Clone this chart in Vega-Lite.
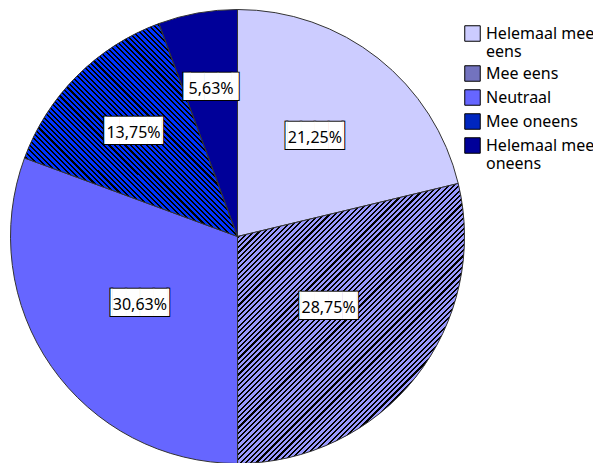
{
"$schema":"https://vega.github.io/schema/vega-lite/v6.json",
"width":475,"height":473,"padding":0,"background":"white",
"config":{"view":{"stroke":null}},
"data":{"values":[
{"i":1,"answer":"Helemaal mee eens","pct":21.25,"label":"21,25%"},
{"i":2,"answer":"Mee eens","pct":28.75,"label":"28,75%"},
{"i":3,"answer":"Neutraal","pct":30.63,"label":"30,63%"},
{"i":4,"answer":"Mee oneens","pct":13.75,"label":"13,75%"},
{"i":5,"answer":"Helemaal mee oneens","pct":5.63,"label":"5,63%"}
]},
"encoding":{
"theta":{"field":"pct","type":"quantitative","stack":true},
"order":{"field":"i","type":"quantitative"}
},
"layer":[
{"mark":{"type":"arc","outerRadius":227,"strokeWidth":0},
"encoding":{"color":{"field":"answer","type":"nominal",
"scale":{"domain":["Helemaal mee eens","Mee eens","Neutraal","Mee oneens","Helemaal mee oneens"],"range":["#ccccff","#7373bf","#6666ff","#0026bf","#000099"]},
"legend":{"orient":"none","legendX":464,"legendY":25,"title":null,"symbolType":"square","symbolSize":240,"symbolStrokeColor":"#000","symbolStrokeWidth":1,"labelFont":"Noto Sans","labelFontSize":16,"labelColor":"#000","labelLineHeight":19,"rowPadding":3,"labelOffset":5,"labelLimit":300,"padding":0,"symbolOffset":0,
"labelExpr":"datum.label == 'Helemaal mee eens' ? ['Helemaal mee','eens'] : datum.label == 'Helemaal mee oneens' ? ['Helemaal mee','oneens'] : datum.label"}}}},
{"mark":{"type":"arc","outerRadius":227,"stroke":"#333","strokeWidth":1},
"encoding":{"fill":{"condition":[
{"test":"datum.answer === 'Mee eens'","value":{"gradient":"linear","x1":0,"y1":0,"x2":0.9265,"y2":1.1429,"stops":[
{"offset":0.05,"color":"#000"},{"offset":0.054,"color":"#000"},{"offset":0.054,"color":"#99f"},{"offset":0.06,"color":"#99f"},
{"offset":0.06,"color":"#000"},{"offset":0.064,"color":"#000"},{"offset":0.064,"color":"#99f"},{"offset":0.07,"color":"#99f"},
{"offset":0.07,"color":"#000"},{"offset":0.074,"color":"#000"},{"offset":0.074,"color":"#99f"},{"offset":0.08,"color":"#99f"},
{"offset":0.08,"color":"#000"},{"offset":0.084,"color":"#000"},{"offset":0.084,"color":"#99f"},{"offset":0.09,"color":"#99f"},
{"offset":0.09,"color":"#000"},{"offset":0.094,"color":"#000"},{"offset":0.094,"color":"#99f"},{"offset":0.1,"color":"#99f"},
{"offset":0.1,"color":"#000"},{"offset":0.104,"color":"#000"},{"offset":0.104,"color":"#99f"},{"offset":0.11,"color":"#99f"},
{"offset":0.11,"color":"#000"},{"offset":0.114,"color":"#000"},{"offset":0.114,"color":"#99f"},{"offset":0.12,"color":"#99f"},
{"offset":0.12,"color":"#000"},{"offset":0.124,"color":"#000"},{"offset":0.124,"color":"#99f"},{"offset":0.13,"color":"#99f"},
{"offset":0.13,"color":"#000"},{"offset":0.134,"color":"#000"},{"offset":0.134,"color":"#99f"},{"offset":0.14,"color":"#99f"},
{"offset":0.14,"color":"#000"},{"offset":0.144,"color":"#000"},{"offset":0.144,"color":"#99f"},{"offset":0.15,"color":"#99f"},
{"offset":0.15,"color":"#000"},{"offset":0.154,"color":"#000"},{"offset":0.154,"color":"#99f"},{"offset":0.16,"color":"#99f"},
{"offset":0.16,"color":"#000"},{"offset":0.164,"color":"#000"},{"offset":0.164,"color":"#99f"},{"offset":0.17,"color":"#99f"},
{"offset":0.17,"color":"#000"},{"offset":0.174,"color":"#000"},{"offset":0.174,"color":"#99f"},{"offset":0.18,"color":"#99f"},
{"offset":0.18,"color":"#000"},{"offset":0.184,"color":"#000"},{"offset":0.184,"color":"#99f"},{"offset":0.19,"color":"#99f"},
{"offset":0.19,"color":"#000"},{"offset":0.194,"color":"#000"},{"offset":0.194,"color":"#99f"},{"offset":0.2,"color":"#99f"},
{"offset":0.2,"color":"#000"},{"offset":0.204,"color":"#000"},{"offset":0.204,"color":"#99f"},{"offset":0.21,"color":"#99f"},
{"offset":0.21,"color":"#000"},{"offset":0.214,"color":"#000"},{"offset":0.214,"color":"#99f"},{"offset":0.22,"color":"#99f"},
{"offset":0.22,"color":"#000"},{"offset":0.224,"color":"#000"},{"offset":0.224,"color":"#99f"},{"offset":0.23,"color":"#99f"},
{"offset":0.23,"color":"#000"},{"offset":0.234,"color":"#000"},{"offset":0.234,"color":"#99f"},{"offset":0.24,"color":"#99f"},
{"offset":0.24,"color":"#000"},{"offset":0.244,"color":"#000"},{"offset":0.244,"color":"#99f"},{"offset":0.25,"color":"#99f"},
{"offset":0.25,"color":"#000"},{"offset":0.254,"color":"#000"},{"offset":0.254,"color":"#99f"},{"offset":0.26,"color":"#99f"},
{"offset":0.26,"color":"#000"},{"offset":0.264,"color":"#000"},{"offset":0.264,"color":"#99f"},{"offset":0.27,"color":"#99f"},
{"offset":0.27,"color":"#000"},{"offset":0.274,"color":"#000"},{"offset":0.274,"color":"#99f"},{"offset":0.28,"color":"#99f"},
{"offset":0.28,"color":"#000"},{"offset":0.284,"color":"#000"},{"offset":0.284,"color":"#99f"},{"offset":0.29,"color":"#99f"},
{"offset":0.29,"color":"#000"},{"offset":0.294,"color":"#000"},{"offset":0.294,"color":"#99f"},{"offset":0.3,"color":"#99f"},
{"offset":0.3,"color":"#000"},{"offset":0.304,"color":"#000"},{"offset":0.304,"color":"#99f"},{"offset":0.31,"color":"#99f"},
{"offset":0.31,"color":"#000"},{"offset":0.314,"color":"#000"},{"offset":0.314,"color":"#99f"},{"offset":0.32,"color":"#99f"},
{"offset":0.32,"color":"#000"},{"offset":0.324,"color":"#000"},{"offset":0.324,"color":"#99f"},{"offset":0.33,"color":"#99f"},
{"offset":0.33,"color":"#000"},{"offset":0.334,"color":"#000"},{"offset":0.334,"color":"#99f"},{"offset":0.34,"color":"#99f"},
{"offset":0.34,"color":"#000"},{"offset":0.344,"color":"#000"},{"offset":0.344,"color":"#99f"},{"offset":0.35,"color":"#99f"},
{"offset":0.35,"color":"#000"},{"offset":0.354,"color":"#000"},{"offset":0.354,"color":"#99f"},{"offset":0.36,"color":"#99f"},
{"offset":0.36,"color":"#000"},{"offset":0.364,"color":"#000"},{"offset":0.364,"color":"#99f"},{"offset":0.37,"color":"#99f"},
{"offset":0.37,"color":"#000"},{"offset":0.374,"color":"#000"},{"offset":0.374,"color":"#99f"},{"offset":0.38,"color":"#99f"},
{"offset":0.38,"color":"#000"},{"offset":0.384,"color":"#000"},{"offset":0.384,"color":"#99f"},{"offset":0.39,"color":"#99f"},
{"offset":0.39,"color":"#000"},{"offset":0.394,"color":"#000"},{"offset":0.394,"color":"#99f"},{"offset":0.4,"color":"#99f"},
{"offset":0.4,"color":"#000"},{"offset":0.404,"color":"#000"},{"offset":0.404,"color":"#99f"},{"offset":0.41,"color":"#99f"},
{"offset":0.41,"color":"#000"},{"offset":0.414,"color":"#000"},{"offset":0.414,"color":"#99f"},{"offset":0.42,"color":"#99f"},
{"offset":0.42,"color":"#000"},{"offset":0.424,"color":"#000"},{"offset":0.424,"color":"#99f"},{"offset":0.43,"color":"#99f"},
{"offset":0.43,"color":"#000"},{"offset":0.434,"color":"#000"},{"offset":0.434,"color":"#99f"},{"offset":0.44,"color":"#99f"},
{"offset":0.44,"color":"#000"},{"offset":0.444,"color":"#000"},{"offset":0.444,"color":"#99f"},{"offset":0.45,"color":"#99f"},
{"offset":0.45,"color":"#000"},{"offset":0.454,"color":"#000"},{"offset":0.454,"color":"#99f"},{"offset":0.46,"color":"#99f"},
{"offset":0.46,"color":"#000"},{"offset":0.464,"color":"#000"},{"offset":0.464,"color":"#99f"},{"offset":0.47,"color":"#99f"},
{"offset":0.47,"color":"#000"},{"offset":0.474,"color":"#000"},{"offset":0.474,"color":"#99f"},{"offset":0.48,"color":"#99f"},
{"offset":0.48,"color":"#000"},{"offset":0.484,"color":"#000"},{"offset":0.484,"color":"#99f"},{"offset":0.49,"color":"#99f"},
{"offset":0.49,"color":"#000"},{"offset":0.494,"color":"#000"},{"offset":0.494,"color":"#99f"},{"offset":0.5,"color":"#99f"},
{"offset":0.5,"color":"#000"},{"offset":0.504,"color":"#000"},{"offset":0.504,"color":"#99f"},{"offset":0.51,"color":"#99f"},
{"offset":0.51,"color":"#000"},{"offset":0.514,"color":"#000"},{"offset":0.514,"color":"#99f"},{"offset":0.52,"color":"#99f"},
{"offset":0.52,"color":"#000"},{"offset":0.524,"color":"#000"},{"offset":0.524,"color":"#99f"},{"offset":0.53,"color":"#99f"},
{"offset":0.53,"color":"#000"},{"offset":0.534,"color":"#000"},{"offset":0.534,"color":"#99f"},{"offset":0.54,"color":"#99f"},
{"offset":0.54,"color":"#000"},{"offset":0.544,"color":"#000"},{"offset":0.544,"color":"#99f"},{"offset":0.55,"color":"#99f"},
{"offset":0.55,"color":"#000"},{"offset":0.554,"color":"#000"},{"offset":0.554,"color":"#99f"},{"offset":0.56,"color":"#99f"},
{"offset":0.56,"color":"#000"},{"offset":0.564,"color":"#000"},{"offset":0.564,"color":"#99f"},{"offset":0.57,"color":"#99f"},
{"offset":0.57,"color":"#000"},{"offset":0.574,"color":"#000"},{"offset":0.574,"color":"#99f"},{"offset":0.58,"color":"#99f"},
{"offset":0.58,"color":"#000"},{"offset":0.584,"color":"#000"},{"offset":0.584,"color":"#99f"},{"offset":0.59,"color":"#99f"},
{"offset":0.59,"color":"#000"},{"offset":0.594,"color":"#000"},{"offset":0.594,"color":"#99f"},{"offset":0.6,"color":"#99f"},
{"offset":0.6,"color":"#000"},{"offset":0.604,"color":"#000"},{"offset":0.604,"color":"#99f"},{"offset":0.61,"color":"#99f"},
{"offset":0.61,"color":"#000"},{"offset":0.614,"color":"#000"},{"offset":0.614,"color":"#99f"},{"offset":0.62,"color":"#99f"},
{"offset":0.62,"color":"#000"},{"offset":0.624,"color":"#000"},{"offset":0.624,"color":"#99f"},{"offset":0.63,"color":"#99f"},
{"offset":0.63,"color":"#000"},{"offset":0.634,"color":"#000"},{"offset":0.634,"color":"#99f"},{"offset":0.64,"color":"#99f"},
{"offset":0.64,"color":"#000"},{"offset":0.644,"color":"#000"},{"offset":0.644,"color":"#99f"},{"offset":0.65,"color":"#99f"},
{"offset":0.65,"color":"#000"},{"offset":0.654,"color":"#000"},{"offset":0.654,"color":"#99f"},{"offset":0.66,"color":"#99f"},
{"offset":0.66,"color":"#000"},{"offset":0.664,"color":"#000"},{"offset":0.664,"color":"#99f"},{"offset":0.67,"color":"#99f"},
{"offset":0.67,"color":"#000"},{"offset":0.674,"color":"#000"},{"offset":0.674,"color":"#99f"},{"offset":0.68,"color":"#99f"},
{"offset":0.68,"color":"#000"},{"offset":0.684,"color":"#000"},{"offset":0.684,"color":"#99f"},{"offset":0.69,"color":"#99f"},
{"offset":0.69,"color":"#000"},{"offset":0.694,"color":"#000"},{"offset":0.694,"color":"#99f"},{"offset":0.7,"color":"#99f"},
{"offset":0.7,"color":"#000"},{"offset":0.704,"color":"#000"},{"offset":0.704,"color":"#99f"},{"offset":0.71,"color":"#99f"},
{"offset":0.71,"color":"#000"},{"offset":0.714,"color":"#000"},{"offset":0.714,"color":"#99f"},{"offset":0.72,"color":"#99f"},
{"offset":0.72,"color":"#000"},{"offset":0.724,"color":"#000"},{"offset":0.724,"color":"#99f"},{"offset":0.73,"color":"#99f"},
{"offset":0.73,"color":"#000"},{"offset":0.734,"color":"#000"},{"offset":0.734,"color":"#99f"},{"offset":0.74,"color":"#99f"},
{"offset":0.74,"color":"#000"},{"offset":0.744,"color":"#000"},{"offset":0.744,"color":"#99f"},{"offset":0.75,"color":"#99f"},
{"offset":0.75,"color":"#000"},{"offset":0.754,"color":"#000"},{"offset":0.754,"color":"#99f"},{"offset":0.76,"color":"#99f"}
]}},
{"test":"datum.answer === 'Mee oneens'","value":{"gradient":"linear","x1":0,"y1":1,"x2":1.2449,"y2":-0.2449,"stops":[
{"offset":0.1,"color":"#000"},{"offset":0.104,"color":"#000"},{"offset":0.104,"color":"#03f"},{"offset":0.11,"color":"#03f"},
{"offset":0.11,"color":"#000"},{"offset":0.114,"color":"#000"},{"offset":0.114,"color":"#03f"},{"offset":0.12,"color":"#03f"},
{"offset":0.12,"color":"#000"},{"offset":0.124,"color":"#000"},{"offset":0.124,"color":"#03f"},{"offset":0.13,"color":"#03f"},
{"offset":0.13,"color":"#000"},{"offset":0.134,"color":"#000"},{"offset":0.134,"color":"#03f"},{"offset":0.14,"color":"#03f"},
{"offset":0.14,"color":"#000"},{"offset":0.144,"color":"#000"},{"offset":0.144,"color":"#03f"},{"offset":0.15,"color":"#03f"},
{"offset":0.15,"color":"#000"},{"offset":0.154,"color":"#000"},{"offset":0.154,"color":"#03f"},{"offset":0.16,"color":"#03f"},
{"offset":0.16,"color":"#000"},{"offset":0.164,"color":"#000"},{"offset":0.164,"color":"#03f"},{"offset":0.17,"color":"#03f"},
{"offset":0.17,"color":"#000"},{"offset":0.174,"color":"#000"},{"offset":0.174,"color":"#03f"},{"offset":0.18,"color":"#03f"},
{"offset":0.18,"color":"#000"},{"offset":0.184,"color":"#000"},{"offset":0.184,"color":"#03f"},{"offset":0.19,"color":"#03f"},
{"offset":0.19,"color":"#000"},{"offset":0.194,"color":"#000"},{"offset":0.194,"color":"#03f"},{"offset":0.2,"color":"#03f"},
{"offset":0.2,"color":"#000"},{"offset":0.204,"color":"#000"},{"offset":0.204,"color":"#03f"},{"offset":0.21,"color":"#03f"},
{"offset":0.21,"color":"#000"},{"offset":0.214,"color":"#000"},{"offset":0.214,"color":"#03f"},{"offset":0.22,"color":"#03f"},
{"offset":0.22,"color":"#000"},{"offset":0.224,"color":"#000"},{"offset":0.224,"color":"#03f"},{"offset":0.23,"color":"#03f"},
{"offset":0.23,"color":"#000"},{"offset":0.234,"color":"#000"},{"offset":0.234,"color":"#03f"},{"offset":0.24,"color":"#03f"},
{"offset":0.24,"color":"#000"},{"offset":0.244,"color":"#000"},{"offset":0.244,"color":"#03f"},{"offset":0.25,"color":"#03f"},
{"offset":0.25,"color":"#000"},{"offset":0.254,"color":"#000"},{"offset":0.254,"color":"#03f"},{"offset":0.26,"color":"#03f"},
{"offset":0.26,"color":"#000"},{"offset":0.264,"color":"#000"},{"offset":0.264,"color":"#03f"},{"offset":0.27,"color":"#03f"},
{"offset":0.27,"color":"#000"},{"offset":0.274,"color":"#000"},{"offset":0.274,"color":"#03f"},{"offset":0.28,"color":"#03f"},
{"offset":0.28,"color":"#000"},{"offset":0.284,"color":"#000"},{"offset":0.284,"color":"#03f"},{"offset":0.29,"color":"#03f"},
{"offset":0.29,"color":"#000"},{"offset":0.294,"color":"#000"},{"offset":0.294,"color":"#03f"},{"offset":0.3,"color":"#03f"},
{"offset":0.3,"color":"#000"},{"offset":0.304,"color":"#000"},{"offset":0.304,"color":"#03f"},{"offset":0.31,"color":"#03f"},
{"offset":0.31,"color":"#000"},{"offset":0.314,"color":"#000"},{"offset":0.314,"color":"#03f"},{"offset":0.32,"color":"#03f"},
{"offset":0.32,"color":"#000"},{"offset":0.324,"color":"#000"},{"offset":0.324,"color":"#03f"},{"offset":0.33,"color":"#03f"},
{"offset":0.33,"color":"#000"},{"offset":0.334,"color":"#000"},{"offset":0.334,"color":"#03f"},{"offset":0.34,"color":"#03f"},
{"offset":0.34,"color":"#000"},{"offset":0.344,"color":"#000"},{"offset":0.344,"color":"#03f"},{"offset":0.35,"color":"#03f"},
{"offset":0.35,"color":"#000"},{"offset":0.354,"color":"#000"},{"offset":0.354,"color":"#03f"},{"offset":0.36,"color":"#03f"},
{"offset":0.36,"color":"#000"},{"offset":0.364,"color":"#000"},{"offset":0.364,"color":"#03f"},{"offset":0.37,"color":"#03f"},
{"offset":0.37,"color":"#000"},{"offset":0.374,"color":"#000"},{"offset":0.374,"color":"#03f"},{"offset":0.38,"color":"#03f"},
{"offset":0.38,"color":"#000"},{"offset":0.384,"color":"#000"},{"offset":0.384,"color":"#03f"},{"offset":0.39,"color":"#03f"},
{"offset":0.39,"color":"#000"},{"offset":0.394,"color":"#000"},{"offset":0.394,"color":"#03f"},{"offset":0.4,"color":"#03f"},
{"offset":0.4,"color":"#000"},{"offset":0.404,"color":"#000"},{"offset":0.404,"color":"#03f"},{"offset":0.41,"color":"#03f"},
{"offset":0.41,"color":"#000"},{"offset":0.414,"color":"#000"},{"offset":0.414,"color":"#03f"},{"offset":0.42,"color":"#03f"},
{"offset":0.42,"color":"#000"},{"offset":0.424,"color":"#000"},{"offset":0.424,"color":"#03f"},{"offset":0.43,"color":"#03f"},
{"offset":0.43,"color":"#000"},{"offset":0.434,"color":"#000"},{"offset":0.434,"color":"#03f"},{"offset":0.44,"color":"#03f"},
{"offset":0.44,"color":"#000"},{"offset":0.444,"color":"#000"},{"offset":0.444,"color":"#03f"},{"offset":0.45,"color":"#03f"},
{"offset":0.45,"color":"#000"},{"offset":0.454,"color":"#000"},{"offset":0.454,"color":"#03f"},{"offset":0.46,"color":"#03f"},
{"offset":0.46,"color":"#000"},{"offset":0.464,"color":"#000"},{"offset":0.464,"color":"#03f"},{"offset":0.47,"color":"#03f"},
{"offset":0.47,"color":"#000"},{"offset":0.474,"color":"#000"},{"offset":0.474,"color":"#03f"},{"offset":0.48,"color":"#03f"},
{"offset":0.48,"color":"#000"},{"offset":0.484,"color":"#000"},{"offset":0.484,"color":"#03f"},{"offset":0.49,"color":"#03f"},
{"offset":0.49,"color":"#000"},{"offset":0.494,"color":"#000"},{"offset":0.494,"color":"#03f"},{"offset":0.5,"color":"#03f"},
{"offset":0.5,"color":"#000"},{"offset":0.504,"color":"#000"},{"offset":0.504,"color":"#03f"},{"offset":0.51,"color":"#03f"},
{"offset":0.51,"color":"#000"},{"offset":0.514,"color":"#000"},{"offset":0.514,"color":"#03f"},{"offset":0.52,"color":"#03f"},
{"offset":0.52,"color":"#000"},{"offset":0.524,"color":"#000"},{"offset":0.524,"color":"#03f"},{"offset":0.53,"color":"#03f"},
{"offset":0.53,"color":"#000"},{"offset":0.534,"color":"#000"},{"offset":0.534,"color":"#03f"},{"offset":0.54,"color":"#03f"},
{"offset":0.54,"color":"#000"},{"offset":0.544,"color":"#000"},{"offset":0.544,"color":"#03f"},{"offset":0.55,"color":"#03f"},
{"offset":0.55,"color":"#000"},{"offset":0.554,"color":"#000"},{"offset":0.554,"color":"#03f"},{"offset":0.56,"color":"#03f"},
{"offset":0.56,"color":"#000"},{"offset":0.564,"color":"#000"},{"offset":0.564,"color":"#03f"},{"offset":0.57,"color":"#03f"},
{"offset":0.57,"color":"#000"},{"offset":0.574,"color":"#000"},{"offset":0.574,"color":"#03f"},{"offset":0.58,"color":"#03f"},
{"offset":0.58,"color":"#000"},{"offset":0.584,"color":"#000"},{"offset":0.584,"color":"#03f"},{"offset":0.59,"color":"#03f"},
{"offset":0.59,"color":"#000"},{"offset":0.594,"color":"#000"},{"offset":0.594,"color":"#03f"},{"offset":0.6,"color":"#03f"},
{"offset":0.6,"color":"#000"},{"offset":0.604,"color":"#000"},{"offset":0.604,"color":"#03f"},{"offset":0.61,"color":"#03f"},
{"offset":0.61,"color":"#000"},{"offset":0.614,"color":"#000"},{"offset":0.614,"color":"#03f"},{"offset":0.62,"color":"#03f"},
{"offset":0.62,"color":"#000"},{"offset":0.624,"color":"#000"},{"offset":0.624,"color":"#03f"},{"offset":0.63,"color":"#03f"},
{"offset":0.63,"color":"#000"},{"offset":0.634,"color":"#000"},{"offset":0.634,"color":"#03f"},{"offset":0.64,"color":"#03f"},
{"offset":0.64,"color":"#000"},{"offset":0.644,"color":"#000"},{"offset":0.644,"color":"#03f"},{"offset":0.65,"color":"#03f"},
{"offset":0.65,"color":"#000"},{"offset":0.654,"color":"#000"},{"offset":0.654,"color":"#03f"},{"offset":0.66,"color":"#03f"},
{"offset":0.66,"color":"#000"},{"offset":0.664,"color":"#000"},{"offset":0.664,"color":"#03f"},{"offset":0.67,"color":"#03f"},
{"offset":0.67,"color":"#000"},{"offset":0.674,"color":"#000"},{"offset":0.674,"color":"#03f"},{"offset":0.68,"color":"#03f"},
{"offset":0.68,"color":"#000"},{"offset":0.684,"color":"#000"},{"offset":0.684,"color":"#03f"},{"offset":0.69,"color":"#03f"},
{"offset":0.69,"color":"#000"},{"offset":0.694,"color":"#000"},{"offset":0.694,"color":"#03f"},{"offset":0.7,"color":"#03f"},
{"offset":0.7,"color":"#000"},{"offset":0.704,"color":"#000"},{"offset":0.704,"color":"#03f"},{"offset":0.71,"color":"#03f"}
]}}
],"value":null}}},
{"mark":{"type":"text","font":"DejaVu Sans Mono","fontSize":23,"fill":"#000","stroke":"#000","strokeWidth":2,"dy":-2},
"encoding":{
"radius":{"field":"pct","type":"quantitative","scale":{"type":"linear","zero":false,"domain":[5.63,13.75,21.25,28.75,30.63],"range":[150,147,125,116,119]}},
"text":{"condition":{"test":"datum.pct < 10","value":"▐███▌"},"value":"▕████▏"}}},
{"mark":{"type":"text","font":"DejaVu Sans Mono","fontSize":23,"fill":"#fff","dy":-2},
"encoding":{
"radius":{"field":"pct","type":"quantitative","scale":{"type":"linear","zero":false,"domain":[5.63,13.75,21.25,28.75,30.63],"range":[150,147,125,116,119]}},
"text":{"condition":{"test":"datum.pct < 10","value":"▐███▌"},"value":"▕████▏"}}},
{"mark":{"type":"text","font":"Noto Sans","fontSize":16,"fill":"#000"},
"encoding":{
"radius":{"field":"pct","type":"quantitative","scale":{"type":"linear","zero":false,"domain":[5.63,13.75,21.25,28.75,30.63],"range":[150,147,125,116,119]}},
"text":{"field":"label","type":"nominal"}}}
]
}
